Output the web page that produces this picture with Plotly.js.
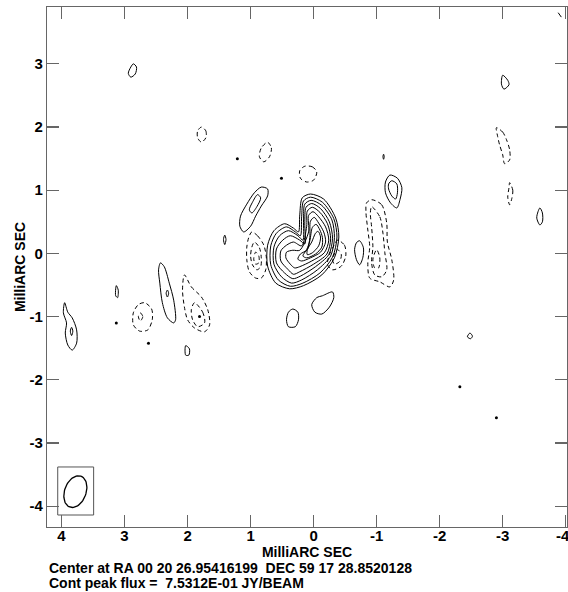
<!DOCTYPE html>
<html><head><meta charset="utf-8">
<script src="https://cdn.plot.ly/plotly-3.0.1.min.js"></script>
<style>html,body{margin:0;padding:0;background:#fff}#chart{width:568px;height:592px}</style>
</head><body><div id="chart"></div>
<script>
// ---- positive (solid) contours, [x mas, y mas] ----
const core1 = [[0.18,0.05,-0.16,-0.35,-0.40,-0.33,-0.13,0.16,0.38,0.60,0.73,0.73,0.63,0.46,0.32,0.24,0.22,0.18],[0.88,0.94,0.86,0.56,0.26,-0.07,-0.34,-0.51,-0.56,-0.47,-0.20,0.13,0.36,0.47,0.40,0.34,0.61,0.88]];
const core2 = [[0.16,0.05,-0.14,-0.32,-0.37,-0.30,-0.10,0.17,0.37,0.56,0.68,0.68,0.59,0.43,0.29,0.21,0.19,0.16],[0.83,0.89,0.81,0.55,0.26,-0.06,-0.31,-0.47,-0.52,-0.42,-0.18,0.12,0.32,0.42,0.34,0.28,0.58,0.83]];
const core3 = [[0.14,0.04,-0.13,-0.29,-0.33,-0.27,-0.06,0.19,0.35,0.51,0.63,0.63,0.54,0.40,0.25,0.17,0.16,0.14],[0.78,0.84,0.76,0.53,0.25,-0.04,-0.26,-0.42,-0.47,-0.37,-0.17,0.10,0.28,0.36,0.28,0.21,0.53,0.78]];
const core4 = [[0.12,0.03,-0.11,-0.25,-0.30,-0.24,-0.03,0.21,0.33,0.46,0.59,0.59,0.49,0.37,0.22,0.14,0.14,0.12],[0.73,0.79,0.71,0.50,0.24,-0.02,-0.21,-0.36,-0.40,-0.31,-0.15,0.07,0.21,0.28,0.21,0.15,0.48,0.73]];
const core5 = [[0.10,0.02,-0.10,-0.22,-0.27,-0.21,0.00,0.22,0.32,0.41,0.52,0.52,0.43,0.32,0.19,0.11,0.10],[0.67,0.73,0.65,0.47,0.23,-0.01,-0.17,-0.29,-0.33,-0.25,-0.12,0.04,0.13,0.18,0.12,0.43,0.67]];
const core6 = [[0.08,0.01,-0.08,-0.19,-0.24,-0.17,0.03,0.22,0.30,0.37,0.44,0.43,0.33,0.22,0.08,0.08],[0.60,0.66,0.58,0.42,0.21,0.01,-0.12,-0.21,-0.23,-0.17,-0.07,0.02,0.05,0.05,0.34,0.60]];
const core7 = [[0.05,-0.01,-0.08,-0.16,-0.19,-0.11,0.05,0.19,0.25,0.21,0.10,0.06,0.05],[0.51,0.57,0.48,0.34,0.18,0.02,-0.07,-0.12,-0.09,-0.01,0.06,0.25,0.51]];
const core8 = [[0.02,-0.04,-0.10,-0.14,-0.13,-0.03,0.11,0.17,0.11,0.06,0.02],[0.41,0.46,0.37,0.25,0.10,-0.01,-0.07,-0.04,0.06,0.20,0.41]];
const core9 = [[-0.03,-0.07,-0.11,-0.08,0.02,0.10,0.10,0.03,-0.03],[0.32,0.35,0.26,0.12,0.01,-0.02,0.06,0.18,0.32]];
const eastBlob = [[1.11,1.17,1.16,1.06,0.94,0.83,0.73,0.73,0.83,0.92,1.00,1.11],[0.34,0.43,0.59,0.78,0.96,1.05,1.02,0.91,0.75,0.59,0.43,0.34]];
const eastBlobIn = [[0.89,0.84,0.90,0.98,1.02,0.97,0.89],[0.93,0.88,0.74,0.64,0.69,0.81,0.93]];
const westOval = [[-0.73,-0.79,-0.78,-0.73,-0.68,-0.65,-0.68,-0.73],[0.20,0.09,-0.07,-0.18,-0.10,0.06,0.17,0.20]];
const westKnot = [[-1.21,-1.33,-1.40,-1.37,-1.32,-1.22,-1.14,-1.14,-1.21],[1.24,1.19,1.04,0.85,0.72,0.80,0.96,1.13,1.24]];
const westKnotIn = [[-1.24,-1.32,-1.33,-1.30,-1.24,-1.19,-1.19,-1.24],[1.15,1.10,0.96,0.86,0.91,1.02,1.10,1.15]];
const southBlob = [[-0.30,-0.32,-0.25,-0.13,-0.02,0.03,-0.05,-0.14,-0.30],[-0.61,-0.70,-0.85,-0.96,-0.93,-0.81,-0.70,-0.67,-0.61]];
const southOval = [[0.33,0.25,0.24,0.29,0.40,0.43,0.40,0.33],[-0.88,-0.93,-1.05,-1.16,-1.16,-1.05,-0.93,-0.88]];
const tinySW = [[-2.48,-2.52,-2.49,-2.44,-2.48],[-1.26,-1.31,-1.35,-1.32,-1.26]];
const farWestD = [[-3.00,-3.08,-3.10,-3.02,-2.98,-3.00],[2.82,2.74,2.67,2.60,2.68,2.82]];
const farWestOval = [[-3.59,-3.63,-3.63,-3.59,-3.54,-3.56,-3.59],[0.72,0.64,0.50,0.45,0.56,0.66,0.72]];
const cornerBit = [[-3.88,-3.93],[3.81,3.74]];
const northEast = [[2.86,2.81,2.83,2.90,2.94,2.90,2.86],[3.00,2.95,2.84,2.79,2.85,2.95,3.00]];
const tickMark1 = [[1.41,1.43,1.41,1.39,1.41],[0.29,0.22,0.14,0.22,0.29]];
const tickMark2 = [[-1.11,-1.12,-1.11,-1.10,-1.11],[1.57,1.53,1.49,1.53,1.57]];
const eastRidge = [[2.43,2.37,2.29,2.22,2.19,2.22,2.32,2.40,2.44,2.46,2.43],[-0.15,-0.21,-0.47,-0.74,-1.05,-1.10,-1.02,-0.78,-0.47,-0.26,-0.15]];
const eastRidgeIn = [[2.32,2.30,2.32,2.34,2.32],[-0.58,-0.63,-0.69,-0.63,-0.58]];
const eastSmall = [[3.13,3.10,3.11,3.14,3.14,3.13],[-0.51,-0.58,-0.70,-0.67,-0.56,-0.51]];
const eastD = [[2.03,1.97,1.98,2.03,2.03],[-1.46,-1.51,-1.61,-1.61,-1.46]];
const farEast = [[3.95,3.90,3.83,3.76,3.76,3.83,3.90,3.94,3.92,3.97,3.95],[-0.78,-0.93,-1.02,-1.21,-1.42,-1.53,-1.45,-1.26,-1.10,-0.94,-0.78]];
const farEastIn = [[3.84,3.82,3.84,3.86,3.84],[-1.17,-1.23,-1.30,-1.23,-1.17]];
const dotX = [1.21, 0.51, -2.32, -2.90, 3.13, 2.62, 1.81];
const dotY = [1.50, 1.19, -2.11, -2.60, -1.10, -1.42, -1.00];

// ---- negative (dashed) contours ----
const negEast = [[0.98,0.89,0.79,0.75,0.76,0.83,0.92,1.02,1.06,1.06,1.03,0.98],[0.34,0.28,0.13,-0.07,-0.26,-0.39,-0.39,-0.29,-0.10,0.10,0.25,0.34]];
const negEastIn = [[0.94,0.86,0.83,0.84,0.90,0.97,1.00,0.98,0.94],[0.18,0.09,-0.07,-0.21,-0.26,-0.18,-0.04,0.10,0.18]];
const negEastIn2 = [[0.92,0.87,0.87,0.92,0.95,0.92],[0.02,-0.04,-0.15,-0.17,-0.09,0.02]];
const negWest = [[-0.38,-0.49,-0.51,-0.44,-0.30,-0.22,-0.25,-0.32,-0.38],[0.21,0.13,-0.04,-0.20,-0.26,-0.18,-0.02,0.12,0.21]];
const negWestIn = [[-0.38,-0.44,-0.41,-0.33,-0.30,-0.38],[0.06,-0.02,-0.13,-0.17,-0.09,0.06]];
const negRidge = [[-0.92,-1.08,-1.16,-1.17,-1.24,-1.27,-1.21,-1.05,-0.89,-0.86,-0.89,-0.86,-0.83,-0.84,-0.92],[0.85,0.77,0.48,0.18,-0.10,-0.42,-0.53,-0.45,-0.39,-0.15,0.10,0.37,0.66,0.80,0.85]];
const negRidgeIn = [[-0.92,-1.05,-1.10,-1.13,-1.16,-1.08,-0.97,-0.92,-0.94,-0.92,-0.90,-0.92],[0.74,0.58,0.32,0.01,-0.26,-0.37,-0.34,-0.15,0.10,0.42,0.64,0.74]];
const negRidgeIn2 = [[-1.00,-1.05,-1.03,-0.97,-0.94,-1.00],[0.06,-0.07,-0.23,-0.23,-0.10,0.06]];
const negFarWest = [[-2.90,-3.00,-3.06,-3.11,-3.11,-3.03,-3.00,-2.95,-2.92,-2.90],[1.99,1.92,1.80,1.64,1.48,1.42,1.56,1.72,1.85,1.99]];
const negFarWest2 = [[-3.11,-3.16,-3.14,-3.11,-3.08,-3.10,-3.11],[1.12,1.00,0.85,0.77,0.89,1.04,1.12]];
const negNE1 = [[1.78,1.71,1.71,1.78,1.84,1.84,1.78],[2.00,1.94,1.83,1.76,1.83,1.94,2.00]];
const negNE2 = [[0.73,0.67,0.70,0.79,0.86,0.83,0.73],[1.76,1.67,1.53,1.45,1.53,1.67,1.76]];
const negNorth = [[0.14,0.02,-0.05,0.00,0.11,0.21,0.22,0.14],[1.38,1.37,1.29,1.16,1.13,1.19,1.31,1.38]];
const negSE = [[2.05,1.94,1.78,1.68,1.65,1.73,1.89,2.00,2.05,2.08,2.05],[-0.34,-0.53,-0.69,-0.89,-1.13,-1.24,-1.18,-1.05,-0.85,-0.58,-0.34]];
const negSEIn = [[1.89,1.76,1.73,1.84,1.92,1.94,1.89],[-0.78,-0.93,-1.10,-1.16,-1.05,-0.89,-0.78]];
const negRing = [[2.68,2.57,2.56,2.63,2.76,2.86,2.86,2.78,2.68],[-0.78,-0.88,-1.05,-1.21,-1.23,-1.13,-0.94,-0.81,-0.78]];
const negRingIn = [[2.75,2.71,2.75,2.78,2.75],[-0.94,-1.00,-1.07,-1.00,-0.94]];

// ---- beam: centre x, centre y, major (mas), minor (mas), tilt (deg) ----
const beamCentre = [3.78, -3.77];
const beamShape = [0.52, 0.34, 20];
const beamBoxX = [4.06, 3.49];
const beamBoxY = [-3.38, -4.14];

// ---- axes ----
const xTickVals = [4, 3, 2, 1, 0, -1, -2, -3, -4];
const xTickText = ['4', '3', '2', '1', '0', '-1', '-2', '-3', '-4\u2009\u2009'];
const yTickVals = [3, 2, 1, 0, -1, -2, -3, -4];
const yTickText = ['3', '2', '1', '0', '-1', '-2', '-3', '-4'];
const footLines = ['Center at RA 00 20 26.95416199\u00a0\u00a0DEC 59 17 28.8520128', 'Cont peak flux =\u00a0\u00a07.5312E-01 JY/BEAM'];

const positive = [core1, core2, core3, core4, core5, core6, core7, core8, core9, eastBlob, eastBlobIn, westOval, westKnot, westKnotIn, southBlob, southOval, tinySW, farWestD, farWestOval, cornerBit, northEast, tickMark1, tickMark2, eastRidge, eastRidgeIn, eastSmall, eastD, farEast, farEastIn];
const negative = [negEast, negEastIn, negEastIn2, negWest, negWestIn, negRidge, negRidgeIn, negRidgeIn2, negFarWest, negFarWest2, negNE1, negNE2, negNorth, negSE, negSEIn, negRing, negRingIn];

const traces = [];
positive.forEach(c => traces.push({x: c[0], y: c[1], type: 'scatter', mode: 'lines', line: {color: '#000', width: 1, shape: 'spline', smoothing: 0.8}, hoverinfo: 'skip', showlegend: false}));
negative.forEach(c => traces.push({x: c[0], y: c[1], type: 'scatter', mode: 'lines', line: {color: '#000', width: 1, dash: '4px,3px', shape: 'spline', smoothing: 0.8}, hoverinfo: 'skip', showlegend: false}));
traces.push({x: dotX, y: dotY, type: 'scatter', mode: 'markers', marker: {color: '#000', size: 3}, hoverinfo: 'skip', showlegend: false});

// beam ellipse
const bx = [], by = [];
const a = beamShape[0] / 2, b = beamShape[1] / 2, th = beamShape[2] * Math.PI / 180;
for (let i = 0; i <= 72; i++) {
  const t = i / 72 * 2 * Math.PI;
  const u = a * Math.cos(t), v = b * Math.sin(t);
  bx.push(beamCentre[0] + u * (-Math.sin(th)) + v * Math.cos(th));
  by.push(beamCentre[1] + u * Math.cos(th) + v * Math.sin(th));
}
traces.push({x: bx, y: by, type: 'scatter', mode: 'lines', line: {color: '#000', width: 1.3}, hoverinfo: 'skip', showlegend: false});
traces.push({x: [beamBoxX[0], beamBoxX[1], beamBoxX[1], beamBoxX[0], beamBoxX[0]], y: [beamBoxY[0], beamBoxY[0], beamBoxY[1], beamBoxY[1], beamBoxY[0]], type: 'scatter', mode: 'lines', line: {color: '#555', width: 1}, hoverinfo: 'skip', showlegend: false});

const fam = '"Liberation Sans", Arial, sans-serif';
const axisCommon = {showline: true, linecolor: '#666', linewidth: 1.2, mirror: 'ticks', ticks: 'inside', ticklen: 12, tickcolor: '#666', tickwidth: 1.2, showgrid: false, zeroline: false, tickfont: {family: fam, size: 15, color: '#000', weight: 'bold'}, tickmode: 'array', ticklabeloverflow: 'allow'};

const layout = {
  width: 568, height: 592,
  margin: {l: 47, r: 1, t: 7, b: 65},
  paper_bgcolor: '#fff', plot_bgcolor: '#fff',
  xaxis: Object.assign({}, axisCommon, {range: [4.23, -4.02], tickvals: xTickVals, ticktext: xTickText, ticklabelstandoff: -5,
    title: {text: 'MilliARC SEC', font: {family: fam, size: 14, color: '#000', weight: 'bold'}, standoff: 0}}),
  yaxis: Object.assign({}, axisCommon, {range: [-4.33, 3.90], tickvals: yTickVals, ticktext: yTickText,
    title: {text: 'MilliARC SEC', font: {family: fam, size: 14, color: '#000', weight: 'bold'}, standoff: 0}}),
  annotations: footLines.map((t, i) => ({text: t, xref: 'paper', yref: 'paper', x: 0, y: 0, xanchor: 'left', yanchor: 'middle', xshift: 0, yshift: -41 - 15 * i, showarrow: false, font: {family: fam, size: 14, color: '#000', weight: 'bold'}})),
  showlegend: false
};
Plotly.newPlot('chart', traces, layout, {staticPlot: true, displayModeBar: false});
</script></body></html>
